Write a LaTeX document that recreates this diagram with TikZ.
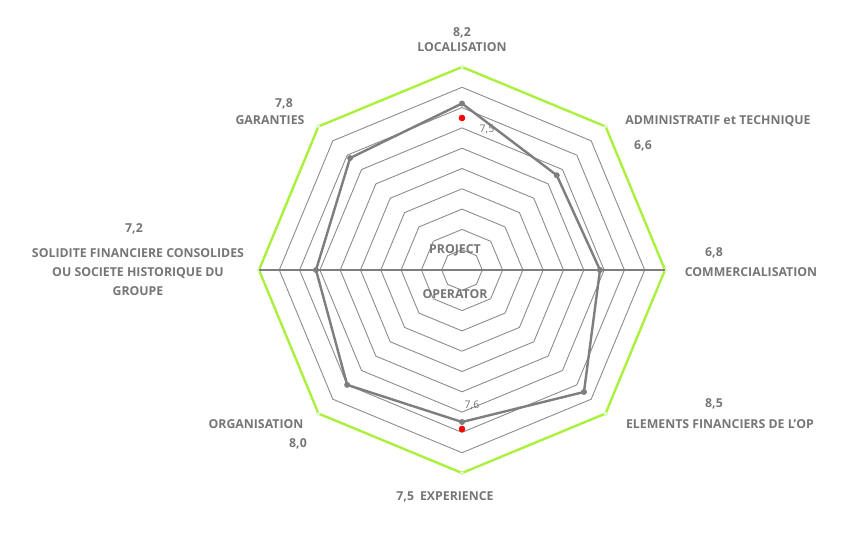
\documentclass[tikz,border=0pt]{standalone}
\usepackage{fontspec}
\setmainfont{Open Sans}
\usetikzlibrary{calc}
\definecolor{txtgray}{RGB}{118,118,118}
\definecolor{gridgray}{RGB}{140,140,140}
\definecolor{limegreen}{RGB}{170,240,60}
\tikzset{
  lbl/.style={font=\bfseries\fontsize{12.3}{19}\selectfont, text=txtgray, inner sep=1pt},
  vallbl/.style={font=\fontsize{10.5}{12}\selectfont, text=txtgray, inner sep=1pt},
  ring/.style={draw=gridgray, line width=0.9pt},
}
\begin{document}
\begin{tikzpicture}[x=1pt, y=-1pt]
  \useasboundingbox (0,0) rectangle (847,544);
  \coordinate (c) at (462,270);
  % grid rings
  \foreach \k in {1,...,9}
    \draw[ring] ($(c)+(270:20.3*\k)$) \foreach \a in {315,360,...,585} { -- ($(c)+(\a:20.3*\k)$) } -- cycle;
  \draw[limegreen, line width=2.4pt] ($(c)+(270:203)$) \foreach \a in {315,360,...,585} { -- ($(c)+(\a:203)$) } -- cycle;
  \foreach \a in {0,45,...,315}
    \node[circle, draw=limegreen!60, fill=cyan!10, inner sep=1.4pt] (v\a) at ($(c)+(\a:203)$) {};
  % horizontal axis
  \draw[gridgray!90!black, line width=2.6pt] (v180.center) -- (v0.center);
  % data
  \draw[gridgray!90!black, line width=2.4pt]
    ($(c)+(270:166.5)$) -- ($(c)+(315:134)$) -- ($(c)+(0:138)$) -- ($(c)+(45:172.5)$)
    -- ($(c)+(90:152)$) -- ($(c)+(135:162.4)$) -- ($(c)+(180:146)$) -- ($(c)+(225:158.3)$) -- cycle;
  \foreach \a/\r in {270/166.5,315/134,0/138,45/172.5,90/152,135/162.4,180/146,225/158.3}
    \fill[gridgray!90!black] ($(c)+(\a:\r)$) circle (3);
  \fill[red] (462,118) circle (3.3);
  \fill[red] (462,429) circle (3.3);
  \node[vallbl] (v75) at (487,129) {7,5};
  \node[vallbl] (v76) at (472,405) {7,6};
  % labels
  \node[lbl] (cv) at (455,250) {PROJECT};
  \node[lbl] (cop) at (455,294) {OPERATOR};
  \node[lbl] (l1v) at (462,33) {8,2};
  \node[lbl] (l1) at (462,47) {LOCALISATION};
  \node[lbl] (l2) at (718,121) {ADMINISTRATIF et TECHNIQUE};
  \node[lbl] (l2v) at (643,146) {6,6};
  \node[lbl] (l3v) at (714,253) {6,8};
  \node[lbl] (l3) at (751,272) {COMMERCIALISATION};
  \node[lbl] (l4v) at (714,404) {8,5};
  \node[lbl] (l4) at (720,424) {ELEMENTS FINANCIERS DE L'OP};
  \node[lbl] (l5) at (445,497) {7,5\hspace{6pt}EXPERIENCE};
  \node[lbl] (l6) at (256,424) {ORGANISATION};
  \node[lbl] (l6v) at (298,444) {8,0};
  \node[lbl] (l7v) at (134,229) {7,2};
  \node[lbl, align=center] (l7) at (138,272) {SOLIDITE FINANCIERE CONSOLIDES\\OU SOCIETE HISTORIQUE DU\\GROUPE};
  \node[lbl] (l8v) at (284,104) {7,8};
  \node[lbl] (l8) at (270,120) {GARANTIES};
\end{tikzpicture}
\end{document}
